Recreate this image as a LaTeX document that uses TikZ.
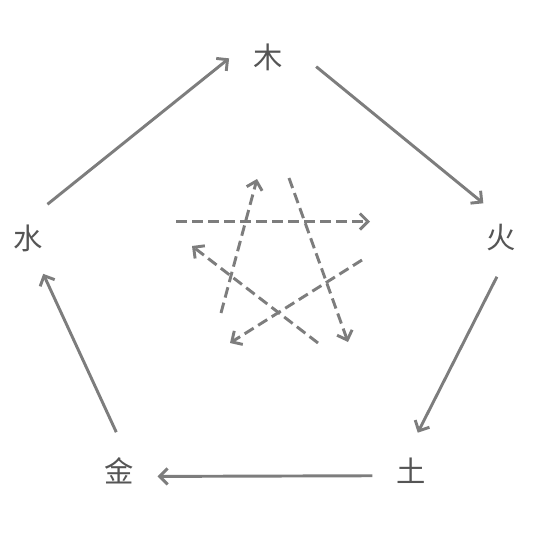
\documentclass[tikz,border=0pt]{standalone}
\usepackage{fontspec}
\usepackage{tikz}
\usetikzlibrary{arrows.meta}
\newfontfamily\cjk{Noto Sans CJK SC}
\definecolor{elemgray}{RGB}{85,85,85}
\definecolor{arrowgray}{RGB}{125,125,125}
\tikzset{elem/.style={circle,minimum size=58pt,inner sep=0pt,text=elemgray,font=\cjk\fontsize{22pt}{22pt}\selectfont}}
\tikzset{sheng/.style={draw=arrowgray,line width=2.2pt,-{Straight Barb[length=6pt,width=12pt]}}}
\tikzset{ke/.style={sheng,dash pattern=on 8pt off 4pt}}

\begin{document}
\begin{tikzpicture}[x=0.75pt,y=-0.75pt]
    \useasboundingbox (0,0) rectangle (540,536);

    % the five elements
    \node[elem] (mu)   at (268,57)  {木};
    \node[elem] (huo)  at (501,238) {火};
    \node[elem] (tu)   at (411,471) {土};
    \node[elem] (jin)  at (119,471) {金};
    \node[elem] (shui) at (28,238)  {水};

    % generating cycle
    \draw[sheng] (shui.60) -- (mu.182);
    \draw[sheng,shorten <=9pt] (mu.-3) -- (huo.117);
    \draw[sheng] (huo.-96) -- (tu.80);
    \draw[sheng] (tu.187) -- (jin.-8);
    \draw[sheng] (jin.94) -- (shui.-67);

    % overcoming cycle
    \coordinate (shuiA) at (176,221.5); \coordinate (huoB) at (370,221.5);
    \coordinate (jinA) at (221,313);  \coordinate (muB) at (257,179);
    \coordinate (muA) at (289,178);   \coordinate (tuB) at (348,342);
    \coordinate (huoA) at (362,260);  \coordinate (jinB) at (230,343);
    \coordinate (tuA) at (318,343);   \coordinate (shuiB) at (192,246);
    \draw[ke] (shuiA) -- (huoB);
    \draw[ke] (jinA) -- (muB);
    \draw[ke] (muA) -- (tuB);
    \draw[ke] (huoA) -- (jinB);
    \draw[ke] (tuA) -- (shuiB);
\end{tikzpicture}
\end{document}
